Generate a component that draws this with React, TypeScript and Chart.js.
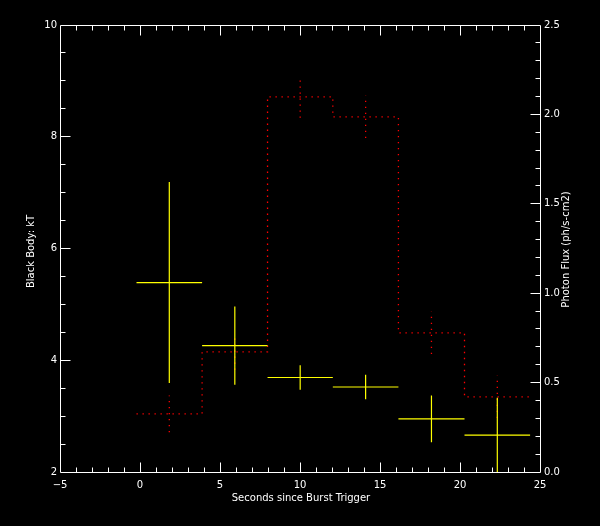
import React, { useEffect, useRef } from "react";
import { Chart, registerables } from "chart.js";

Chart.register(...registerables);

// ---- Data ----
const binEdges = [-0.25, 3.85, 7.94, 12.02, 16.12, 20.25, 24.35]; // seconds
const kT = [5.4, 4.27, 3.7, 3.53, 2.96, 2.67];
const kTErr = [1.8, 0.7, 0.22, 0.22, 0.42, 0.67];
const flux = [0.328, 0.675, 2.101, 1.989, 0.781, 0.423];
const fluxErr = [0.103, 0.1, 0.117, 0.118, 0.118, 0.118];

const xRange = [-5, 25];
const kTRange = [2, 10];
const fluxRange = [0, 2.5];

const xTitle = "Seconds since Burst Trigger";
const yTitle = "Black Body: kT";
const y2Title = "Photon Flux (ph/s-cm2)";

const FONT = "DejaVu Sans";
const YELLOW = "#ffff00";
const RED = "#ff0000";
const WHITE = "#ffffff";

function buildDatasets() {
  const mids = kT.map((_, i) => (binEdges[i] + binEdges[i + 1]) / 2);
  const fluxStep: any[] = [];
  flux.forEach((f, i) => {
    fluxStep.push({ x: binEdges[i], y: f });
    fluxStep.push({ x: binEdges[i + 1], y: f });
  });
  const fluxBars: any[] = [];
  flux.forEach((f, i) => {
    fluxBars.push({ x: mids[i], y: f - fluxErr[i] });
    fluxBars.push({ x: mids[i], y: f + fluxErr[i] });
    fluxBars.push({ x: mids[i], y: null });
  });
  const kTH: any[] = [];
  kT.forEach((k, i) => {
    kTH.push({ x: binEdges[i], y: k });
    kTH.push({ x: binEdges[i + 1], y: k });
    kTH.push({ x: binEdges[i + 1], y: null });
  });
  const kTV: any[] = [];
  kT.forEach((k, i) => {
    kTV.push({ x: mids[i], y: k - kTErr[i] });
    kTV.push({ x: mids[i], y: k + kTErr[i] });
    kTV.push({ x: mids[i], y: null });
  });
  const base = {
    type: "line" as const,
    pointRadius: 0,
    pointHoverRadius: 0,
    spanGaps: false,
    tension: 0,
    fill: false,
  };
  return [
    { ...base, label: "flux", data: fluxStep, yAxisID: "y2", borderColor: RED, borderWidth: 1.3, borderDash: [1.3, 4.7], order: 2 },
    { ...base, label: "fluxErr", data: fluxBars, yAxisID: "y2", borderColor: RED, borderWidth: 1.3, borderDash: [1.3, 4.7], order: 2 },
    { ...base, label: "kT", data: kTH, yAxisID: "y", borderColor: YELLOW, borderWidth: 1.2, order: 1 },
    { ...base, label: "kTErr", data: kTV, yAxisID: "y", borderColor: YELLOW, borderWidth: 1.2, order: 1 },
  ];
}

const crisp = (v: number) => Math.floor(v) + 0.5;

const framePlugin = {
  id: "idlFrame",
  beforeDraw(chart: any) {
    const { ctx, width, height } = chart;
    ctx.save();
    ctx.fillStyle = "#000";
    ctx.fillRect(0, 0, width, height);
    ctx.restore();
  },
  beforeDatasetsDraw(chart: any) {
    chart.ctx.save();
    chart.ctx.translate(0.5, 0.5);
  },
  afterDatasetsDraw(chart: any) {
    chart.ctx.restore();
  },
  afterDraw(chart: any) {
    const { ctx, chartArea } = chart;
    const { left, right, top, bottom } = chartArea;
    const { x, y, y2 } = chart.scales;
    ctx.save();
    ctx.strokeStyle = WHITE;
    ctx.lineWidth = 1;
    ctx.beginPath();
    ctx.rect(crisp(left), crisp(top), crisp(right) - crisp(left), crisp(bottom) - crisp(top));
    ctx.stroke();

    const major = 10;
    const minor = 5;
    ctx.beginPath();
    // x ticks (top & bottom)
    for (let v = xRange[0] + 1; v < xRange[1]; v += 1) {
      const px = crisp(x.getPixelForValue(v));
      const len = Math.abs(v % 5) < 1e-6 ? major : minor;
      ctx.moveTo(px, crisp(bottom));
      ctx.lineTo(px, crisp(bottom) - len);
      ctx.moveTo(px, crisp(top));
      ctx.lineTo(px, crisp(top) + len);
    }
    // left y ticks
    for (let i = 1; i < 16; i++) {
      const v = kTRange[0] + i * 0.5;
      const py = crisp(y.getPixelForValue(v));
      const len = i % 4 === 0 ? major : minor;
      ctx.moveTo(crisp(left), py);
      ctx.lineTo(crisp(left) + len, py);
    }
    // right y ticks
    for (let i = 1; i < 25; i++) {
      const v = fluxRange[0] + i * 0.1;
      const py = crisp(y2.getPixelForValue(v));
      const len = i % 5 === 0 ? major : minor;
      ctx.moveTo(crisp(right), py);
      ctx.lineTo(crisp(right) - len, py);
    }
    ctx.stroke();

    // axis titles
    ctx.fillStyle = WHITE;
    ctx.font = `10px "${FONT}"`;
    ctx.textAlign = "center";
    ctx.textBaseline = "middle";
    const midY = (top + bottom) / 2;
    ctx.fillText(xTitle, (left + right) / 2 + 1, 498);
    ctx.save();
    ctx.translate(31, midY + 3);
    ctx.rotate(-Math.PI / 2);
    ctx.fillText(yTitle, 0, 0);
    ctx.restore();
    ctx.save();
    ctx.translate(566, midY + 1);
    ctx.rotate(-Math.PI / 2);
    ctx.fillText(y2Title, 0, 0);
    ctx.restore();
    ctx.restore();
  },
};

export default function App() {
  const ref = useRef<HTMLCanvasElement | null>(null);
  useEffect(() => {
    document.body.style.margin = "0";
    document.body.style.background = "#000";
    const canvas = ref.current!;
    const tickFont = { family: FONT, size: 10 };
    const chart = new Chart(canvas, {
      type: "line",
      data: { datasets: buildDatasets() as any },
      plugins: [framePlugin],
      options: {
        responsive: false,
        animation: false,
        devicePixelRatio: 1,
        layout: { padding: { top: 25, left: 0, right: 0, bottom: 0 } },
        plugins: { legend: { display: false }, tooltip: { enabled: false } },
        events: [],
        scales: {
          x: {
            type: "linear",
            min: xRange[0],
            max: xRange[1],
            grid: { display: false, drawTicks: false },
            border: { display: false },
            ticks: {
              stepSize: 5,
              color: WHITE,
              font: tickFont,
              padding: 7,
              maxRotation: 0,
              callback: (v: any) => String(v).replace("-", "\u2212"),
            },
            afterFit: (s: any) => {
              s.height = 54;
            },
          },
          y: {
            type: "linear",
            position: "left",
            min: kTRange[0],
            max: kTRange[1],
            grid: { display: false, drawTicks: false },
            border: { display: false },
            ticks: { stepSize: 2, color: WHITE, font: tickFont, padding: 3, callback: (v: any) => String(v) },
            afterFit: (s: any) => {
              s.width = 60;
            },
          },
          y2: {
            type: "linear",
            position: "right",
            min: fluxRange[0],
            max: fluxRange[1],
            grid: { display: false, drawTicks: false },
            border: { display: false },
            ticks: { stepSize: 0.5, color: WHITE, font: tickFont, padding: 4, callback: (v: any) => Number(v).toFixed(1) },
            afterFit: (s: any) => {
              s.width = 60;
            },
          },
        },
      } as any,
    });
    return () => chart.destroy();
  }, []);
  return <canvas ref={ref} width={600} height={526} style={{ display: "block" }} />;
}
